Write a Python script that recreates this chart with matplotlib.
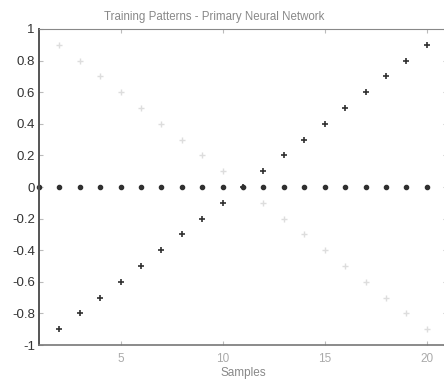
import matplotlib
matplotlib.use("Agg")
import matplotlib.pyplot as plt
import numpy as np

# training patterns
samples = [2, 3, 4, 5, 6, 7, 8, 9, 10, 11, 12, 13, 14, 15, 16, 17, 18, 19, 20]
rising = [-0.9, -0.8, -0.7, -0.6, -0.5, -0.4, -0.3, -0.2, -0.1, 0.0,
          0.1, 0.2, 0.3, 0.4, 0.5, 0.6, 0.7, 0.8, 0.9]
falling = [0.9, 0.8, 0.7, 0.6, 0.5, 0.4, 0.3, 0.2, 0.1, 0.0,
           -0.1, -0.2, -0.3, -0.4, -0.5, -0.6, -0.7, -0.8, -0.9]
zero_samples = [1, 2, 3, 4, 5, 6, 7, 8, 9, 10, 11, 12, 13, 14, 15, 16, 17, 18, 19, 20, 21]
zero_line = [0.0] * len(zero_samples)

yticks = [-1, -0.8, -0.6, -0.4, -0.2, 0, 0.2, 0.4, 0.6, 0.8, 1]
ytick_labels = ["-1", "-0.8", "-0.6", "-0.4", "-0.2", "0", "0.2", "0.4", "0.6", "0.8", "1"]
xticks = [5, 10, 15, 20]


def main():
    plt.rcParams['font.family'] = ['Liberation Sans', 'DejaVu Sans']

    fig = plt.figure(figsize=(4.44, 3.86), dpi=100)
    ax = fig.add_axes([0.088, 0.106, 0.919, 0.819])

    # faint pattern (came out very light in the scan)
    ax.plot(samples, falling, '+', color='#dddddd', markersize=5, markeredgewidth=1, clip_on=False)
    ax.plot(samples, rising, '+', color='#303030', markersize=5, markeredgewidth=1.2, clip_on=False)
    ax.plot(zero_samples, zero_line, '.', color='#303030', markersize=6, clip_on=False)

    ax.set_xlim(1, 21)
    ax.set_ylim(-1, 1)
    ax.set_xticks(xticks)
    ax.set_yticks(yticks)
    ax.set_yticklabels(ytick_labels)
    ax.tick_params(direction='in', top=True, right=True, length=3, width=0.8, colors='#bbbbbb')
    ax.tick_params(axis='y', labelcolor='#333333', labelsize=9.5, pad=3)
    ax.tick_params(axis='x', labelcolor='#aaaaaa', labelsize=8.5, pad=6)

    ax.spines['left'].set_color('#555555')
    ax.spines['left'].set_linewidth(1.4)
    ax.spines['bottom'].set_color('#777777')
    ax.spines['bottom'].set_linewidth(1.2)
    ax.spines['top'].set_color('#888888')
    ax.spines['right'].set_visible(False)

    # title sits a bit left of the axes centre in the original
    fig.text(0.482, 0.955, 'Training Patterns - Primary Neural Network',
             ha='center', va='center', fontsize=8.3, color='#888888')
    ax.set_xlabel('Samples', fontsize=8.5, color='#888888', labelpad=1)

    fig.savefig('out.png', dpi=100)


if __name__ == "__main__":
    main()
